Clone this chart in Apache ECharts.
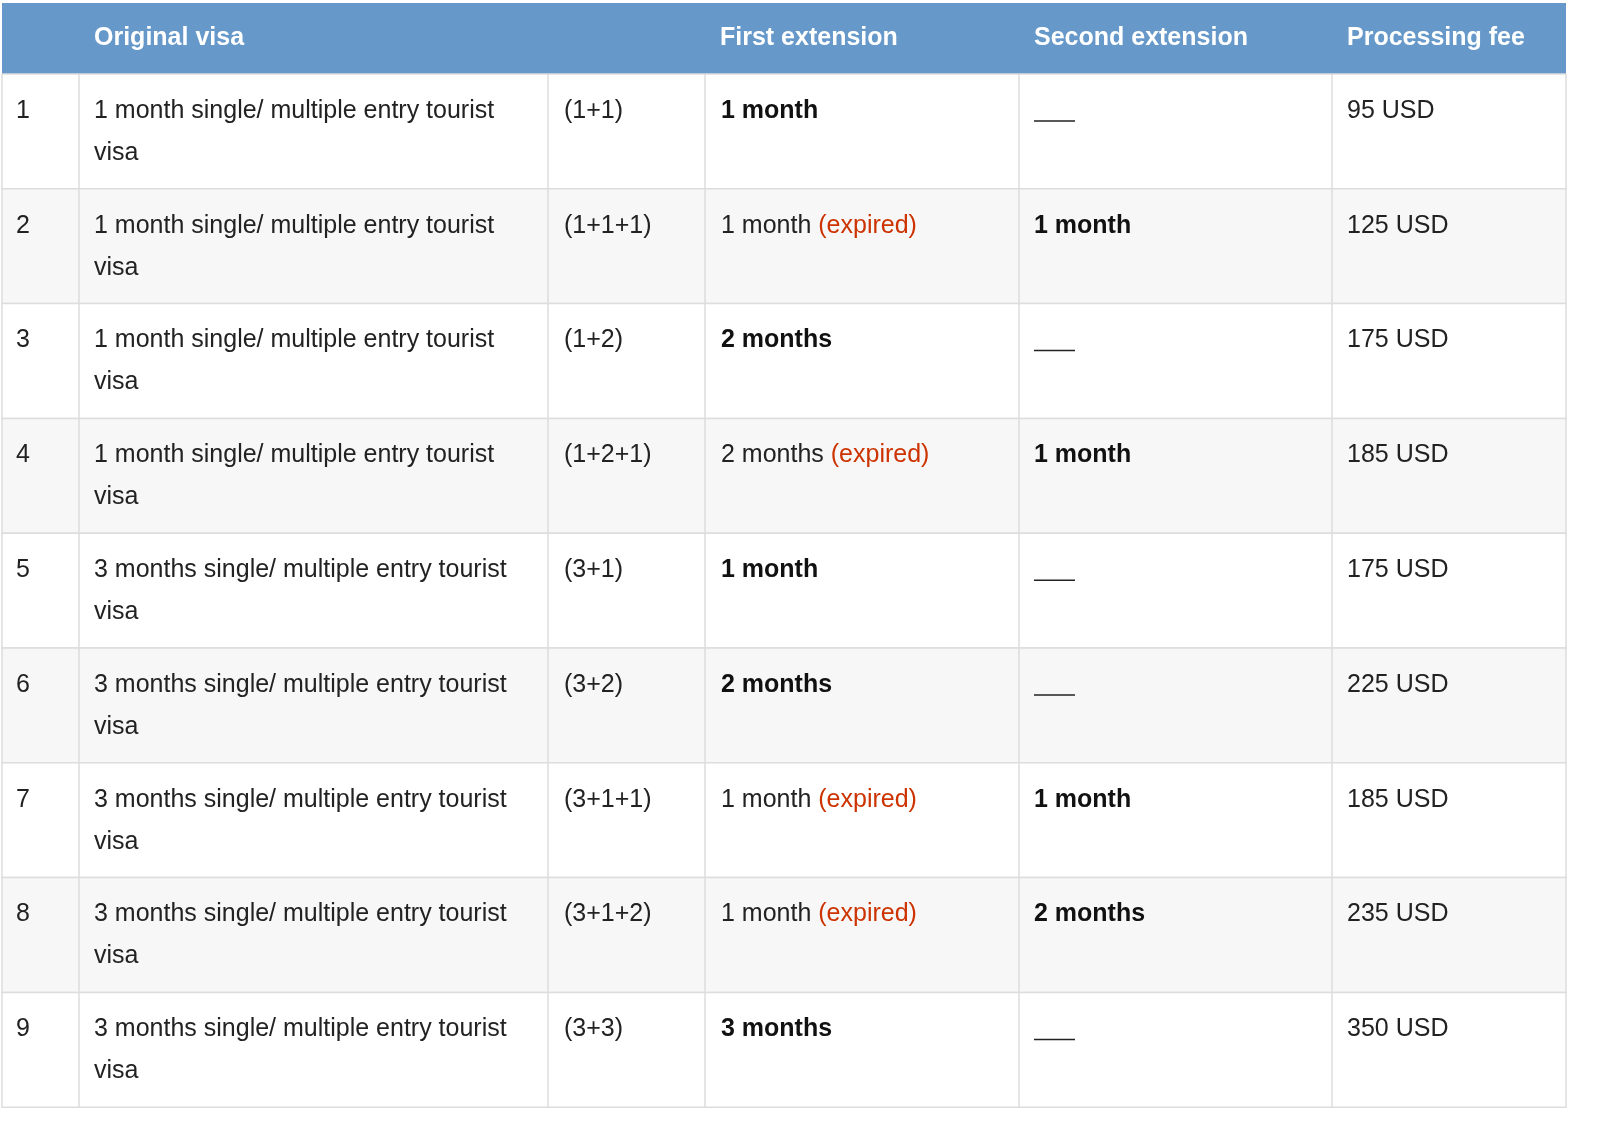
<!DOCTYPE html>
<html><head><meta charset="utf-8">
<script src="https://cdn.jsdelivr.net/npm/echarts@6/dist/echarts.min.js"></script>
<style>html,body{margin:0;padding:0;background:#fff;overflow:hidden}#c{width:1600px;height:1132px}</style>
</head><body><div id="c"></div>
<script>
const headers = ["", "Original visa", "", "First extension", "Second extension", "Processing fee"];
const rowNums = ["1","2","3","4","5","6","7","8","9"];
const originalVisa = ["1 month","1 month","1 month","1 month","3 months","3 months","3 months","3 months","3 months"];
const combos = ["(1+1)","(1+1+1)","(1+2)","(1+2+1)","(3+1)","(3+2)","(3+1+1)","(3+1+2)","(3+3)"];
const firstExt = ["1 month","1 month","2 months","2 months","1 month","2 months","1 month","1 month","3 months"];
const firstExpired = [false,true,false,true,false,false,true,true,false];
const secondExt = ["","1 month","","1 month","","","1 month","2 months",""];
const fees = ["95 USD","125 USD","175 USD","185 USD","175 USD","225 USD","185 USD","235 USD","350 USD"];

const colX = [2,79,548,705,1019,1332,1566];
const headTop = 3, headBot = 74, rowH = 114.8;
const font = '"Liberation Sans", Arial, sans-serif';
const norm = '25px '+font, bold='bold 25px '+font;
const g = [];
g.push({type:'rect', shape:{x:colX[0],y:headTop,width:colX[6]-colX[0],height:headBot-headTop}, style:{fill:'#6699c9'}});
headers.forEach((h,i)=>{ if(h) g.push({type:'text', x:colX[i]+15, y:(headTop+headBot)/2, style:{text:h, fill:'#fff', font:bold, verticalAlign:'middle'}}); });
for(let r=0;r<rowNums.length;r++){
  const y0 = headBot + r*rowH;
  g.push({type:'rect', shape:{x:colX[0],y:y0,width:colX[6]-colX[0],height:rowH}, style:{fill: r%2 ? '#f7f7f7':'#fff', stroke:'#dddddd', lineWidth:1.5}});
  for(let c=1;c<6;c++) g.push({type:'line', shape:{x1:colX[c],y1:y0,x2:colX[c],y2:y0+rowH}, style:{stroke:'#dddddd', lineWidth:1.5}});
  const ty = y0 + 37;
  g.push({type:'text', x:colX[0]+14, y:ty, style:{text:rowNums[r], fill:'#222', font:norm, verticalAlign:'middle'}});
  g.push({type:'text', x:colX[1]+15, y:ty, style:{text:originalVisa[r]+' single/ multiple entry tourist', fill:'#222', font:norm, verticalAlign:'middle'}});
  g.push({type:'text', x:colX[1]+15, y:ty+42, style:{text:'visa', fill:'#222', font:norm, verticalAlign:'middle'}});
  g.push({type:'text', x:colX[2]+16, y:ty, style:{text:combos[r], fill:'#222', font:norm, verticalAlign:'middle'}});
  if(firstExpired[r]){
    g.push({type:'text', x:colX[3]+16, y:ty, style:{text:'{a|'+firstExt[r]+' }{b|(expired)}', verticalAlign:'middle', rich:{a:{fill:'#222',font:norm},b:{fill:'#cc3300',font:norm}}}});
  } else {
    g.push({type:'text', x:colX[3]+16, y:ty, style:{text:firstExt[r], fill:'#111', font:bold, verticalAlign:'middle'}});
  }
  if(secondExt[r]) g.push({type:'text', x:colX[4]+15, y:ty, style:{text:secondExt[r], fill:'#111', font:bold, verticalAlign:'middle'}});
  else g.push({type:'line', shape:{x1:colX[4]+15,y1:ty+10,x2:colX[4]+56,y2:ty+10}, style:{stroke:'#222', lineWidth:1.5}});
  g.push({type:'text', x:colX[5]+15, y:ty, style:{text:fees[r], fill:'#222', font:norm, verticalAlign:'middle'}});
}
const chart = echarts.init(document.getElementById('c'));
chart.setOption({backgroundColor:'#fff', graphic:{elements:g}});
</script></body></html>
